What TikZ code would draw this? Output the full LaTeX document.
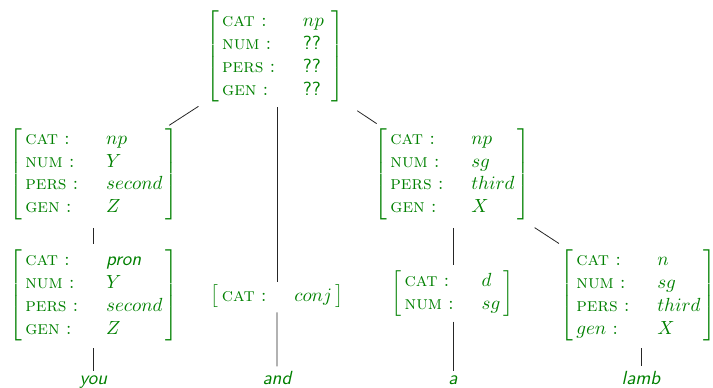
\documentclass[tikz,border=0pt]{standalone}
\definecolor{fgreen}{RGB}{0,128,0}
\newcommand{\lbl}[1]{\mbox{\textsc{#1}\ :}}
\newcommand{\myavm}[1]{$\left[\begin{array}{@{\hspace{1.6pt}}l@{\hspace{14.7pt}}l@{\hspace{1.6pt}}}#1\end{array}\right]$}
\tikzset{
  avm/.style={inner sep=0pt, text=fgreen, scale=1.9},
  word/.style={inner sep=0pt, text=fgreen, anchor=base, scale=1.9, font=\sffamily\itshape},
  edge/.style={draw=black!85, line width=0.8pt}
}
\begin{document}
\begin{tikzpicture}[x=1pt,y=-1pt]
\useasboundingbox (0,0) rectangle (713,388);
\node[avm] (top) at (275.5,56.5) {\myavm{\lbl{cat} & np\hspace{2.6pt}\\ \lbl{num} & \textsf{??}\\ \lbl{pers} & \textsf{??}\\ \lbl{gen} & \textsf{??}}};
\node[avm] (lnp) at (94,174) {\myavm{\lbl{cat} & np\\ \lbl{num} & Y\\ \lbl{pers} & second\\ \lbl{gen} & Z}};
\node[avm] (pron) at (94,295.5) {\myavm{\lbl{cat} & \textsf{\textit{pron}}\\ \lbl{num} & Y\\ \lbl{pers} & second\\ \lbl{gen} & Z}};
\node[avm] (conj) at (277,296.5) {\myavm{\lbl{cat} & conj}};
\node[avm] (rnp) at (452.5,174) {\myavm{\lbl{cat} & np\\ \lbl{num} & sg\\ \lbl{pers} & third\\ \lbl{gen} & X}};
\node[avm] (det) at (452.5,293.5) {\myavm{\lbl{cat} & d\\ \lbl{num} & sg}};
\node[avm] (noun) at (638.5,295.5) {\myavm{\lbl{cat} & n\\ \lbl{num} & sg\\ \lbl{pers} & third\\ gen\mbox{\ :} & X}};
\node[word] (you) at (93.5,384) {you};
\node[word] (and) at (277,384) {and};
\node[word] (a) at (453,384) {a};
\node[word] (lamb) at (641,384) {lamb};
\draw[edge, shorten <=9pt, shorten >=5pt] (top) -- (lnp);
\draw[edge, shorten <=15pt, shorten >=8pt] (top) -- (rnp);
\draw[edge, shorten <=5pt, shorten >=3pt] (top.south -| conj.north) -- (conj.north);
\draw[edge, shorten <=8pt, shorten >=6pt] (lnp.south -| you.north) -- (pron.north -| you.north);
\draw[edge, shorten <=7pt, shorten >=4pt] (pron.south -| you.north) -- (you.north);
\draw[edge, shorten <=4pt, shorten >=4pt] (conj) -- (and);
\draw[edge, shorten <=8pt, shorten >=5pt] (rnp.south -| a.north) -- (det.north -| a.north);
\draw[edge, shorten <=5pt, shorten >=4pt] (det.south -| a.north) -- (a.north);
\draw[edge, shorten <=14pt, shorten >=11pt] (rnp) -- (noun);
\draw[edge, shorten <=7pt, shorten >=4pt] (noun.south -| lamb.north) -- (lamb.north);
\end{tikzpicture}
\end{document}
